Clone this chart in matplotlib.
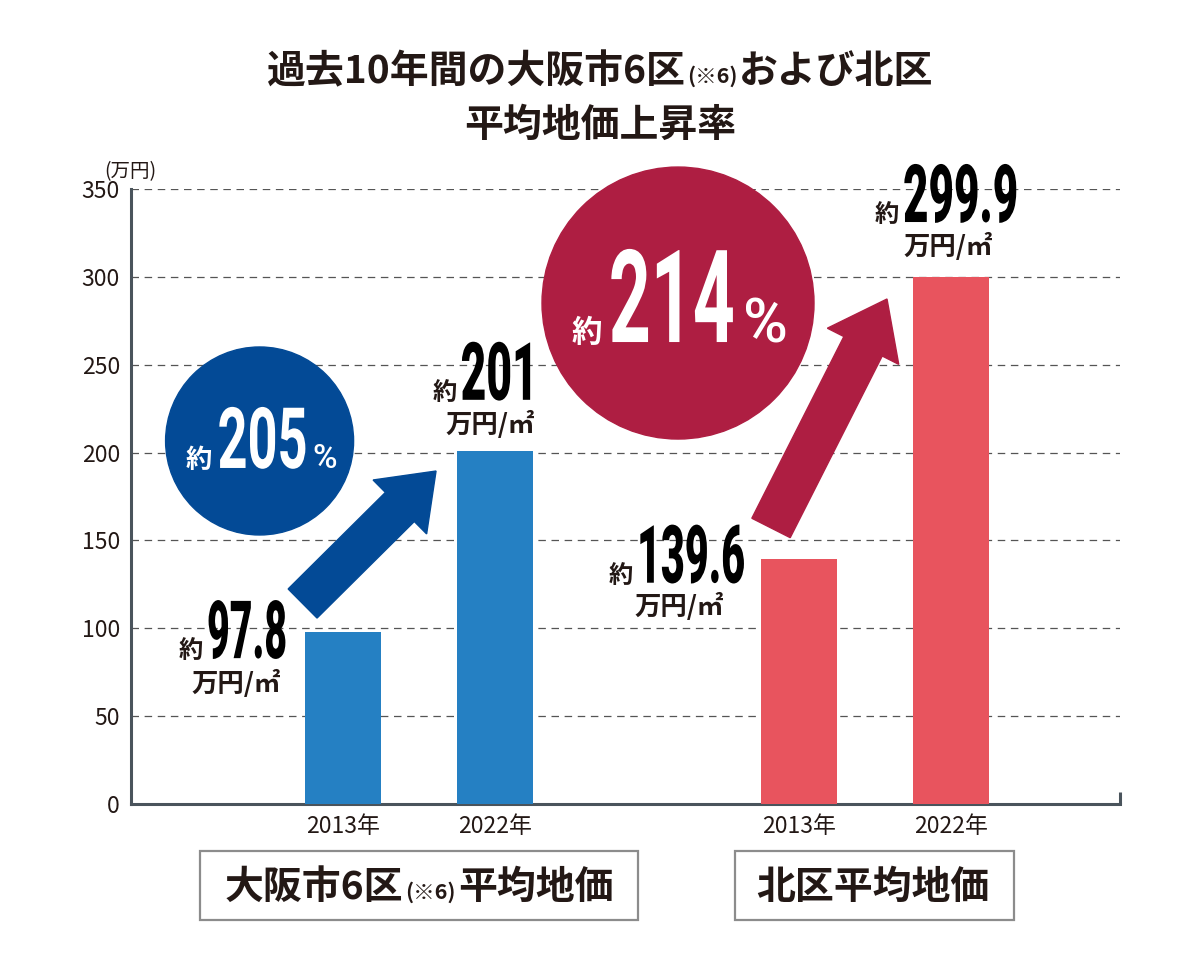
import numpy as np
import matplotlib
matplotlib.use("Agg")
import matplotlib.pyplot as plt
from matplotlib.patches import Circle, Rectangle, Polygon
from matplotlib.patheffects import AbstractPathEffect
from matplotlib.transforms import IdentityTransform, Affine2D

plt.rcParams['font.family'] = ['Noto Sans CJK JP', 'DejaVu Sans']

# data
years = ['2013年', '2022年']
osaka6 = [97.8, 201]
kita = [139.6, 299.9]
growth = ['205', '214']
yticks = [0, 50, 100, 150, 200, 250, 300, 350]

INK = '#231815'
SPINE = '#4a545c'
BAR_COLORS = ['#2580c3', '#2580c3', '#e8545e', '#e8545e']
DEEP = ['#034a96', '#ae1e42']

W, H = 1200, 960
ID = IdentityTransform()
CJK = dict(fontfamily=['Noto Sans CJK JP', 'DejaVu Sans'])
NUM = dict(fontfamily=['Roboto', 'DejaVu Sans'])


class Tall(AbstractPathEffect):
    """stretch glyphs upward from the baseline y0 (fakes a condensed face)"""
    def __init__(self, sy, y0=0.0):
        super().__init__()
        self.sy = sy
        self.y0 = y0

    def draw_path(self, renderer, gc, tpath, affine, rgbFace=None):
        st = Affine2D().translate(0, -self.y0).scale(1, self.sy).translate(0, self.y0)
        renderer.draw_path(gc, tpath, affine + st, rgbFace)


fig = plt.figure(figsize=(12, 9.6), dpi=100)
ax = fig.add_axes([131 / W, 1 - 804 / H, (1120 - 131) / W, (804 - 189) / H])

pos = [0, 1, 3, 4]
values = osaka6 + kita
ax.bar(pos, values, width=0.5, color=BAR_COLORS, zorder=3)

ax.set_xlim(-1.395, 5.112)
ax.set_ylim(0, 350)
ax.set_axisbelow(True)
ax.yaxis.grid(True, linestyle=(0, (6, 4.5)), color='#555555', linewidth=0.9)

ax.set_yticks(yticks)
ax.set_yticklabels([str(v) for v in yticks], fontsize=16.5, color=INK)
ax.set_xticks(pos)
ax.set_xticklabels(years * 2, fontsize=16.5, color=INK)
ax.tick_params(axis='y', length=0, pad=8)
ax.tick_params(axis='x', length=0, pad=8)

for s in ['top', 'right']:
    ax.spines[s].set_visible(False)
for s in ['left', 'bottom']:
    ax.spines[s].set_color(SPINE)
    ax.spines[s].set_linewidth(2.2)
ax.plot([1, 1], [0, 0.019], transform=ax.transAxes, color=SPINE, lw=2.2,
        clip_on=False, solid_capstyle='butt')

fig.text(130 / W, 1 - 172 / H, '(万円)', ha='center', va='center',
         fontsize=14, color=INK, **CJK)

renderer = fig.canvas.get_renderer()


def dpx(x, y):
    X, Y = ax.transData.transform((x, y))
    return X, H - Y


def runs(parts, x, base, anchor='center', gaps=None, z=6):
    # parts: (text, kwargs, target width in px or None)
    texts, widths, stretch = [], [], []
    for s, kw, tw in parts:
        t = fig.text(0, 0, s, transform=ID, ha='left', va='baseline', zorder=z, **kw)
        w = t.get_window_extent(renderer).width
        sy = 1.0
        if tw:
            # shrink the face to the wanted width, then stretch it back up
            k = tw / w
            t.set_fontsize(t.get_fontsize() * k)
            w = t.get_window_extent(renderer).width
            sy = 1 / k
        texts.append(t)
        widths.append(w)
        stretch.append(sy)
    if gaps is None:
        gaps = [2] * (len(texts) - 1)
    total = sum(widths) + sum(gaps)
    x0 = x - total / 2 if anchor == 'center' else x - total
    for i, (t, w, sy) in enumerate(zip(texts, widths, stretch)):
        t.set_position((x0, H - base))
        if sy != 1.0:
            t.set_path_effects([Tall(sy, H - base)])
        x0 += w + (gaps[i] if i < len(gaps) else 0)
    return texts


# title
title_kw = dict(fontsize=28, fontweight='bold', color=INK, **CJK)
small_kw = dict(fontsize=15.5, fontweight='bold', color=INK, **CJK)
runs([('過去10年間の大阪市6区', title_kw, None), ('(※6)', small_kw, None),
      ('および北区', title_kw, None)], 600, 83, gaps=[1, 1])
runs([('平均地価上昇率', title_kw, None)], 600, 137)

# value labels next to bars: anchor, dx number, dy baseline, dx unit, dy unit, number width
label_pos = [('right', -56, 26, -62, 52, 80),
             ('center', -10, -51, -5, -26, 77),
             ('right', -54, 24, -75, 48, 108),
             ('center', -4.5, -55, -3, -30, 115)]
num_kw = dict(fontsize=58, fontweight='black', color='black', **NUM)
yaku_kw = dict(fontsize=17.5, fontweight='bold', color=INK, **CJK)
unit_kw = dict(fontsize=19, fontweight='bold', color=INK, **CJK)
for p, v, (anc, dxn, dyn, dxu, dyu, nw) in zip(pos, values, label_pos):
    bx, by = dpx(p, v)
    runs([('約', yaku_kw, None), (f'{v:g}', num_kw, nw)],
         bx + dxn, by + dyn, anchor=anc, gaps=[4])
    fig.text(bx + dxu, H - (by + dyu), '万円/㎡', transform=ID,
             ha=anc, va='center', zorder=6, **unit_kw)

# growth circles: centre (data), radius px, number size/width, 約 size, % size, baseline dy
circ = [((-0.549, 206.6), 94, 61, 90, 19, 24, 27, [6, 5]),
        ((2.204, 285.1), 136, 93, 126, 22, 44, 39, [7, 8])]
for (c, r, fs_num, nw, fs_yaku, fs_pct, base_dy, gp), g, col in zip(circ, growth, DEEP):
    cx, cy = dpx(*c)
    ax.add_patch(Circle((cx, H - cy), r, transform=ID, color=col, zorder=4, clip_on=False))
    runs([('約', dict(fontsize=fs_yaku, fontweight='bold', color='white', **CJK), None),
          (g, dict(fontsize=fs_num, fontweight='bold', color='white', **NUM), nw),
          ('%', dict(fontsize=fs_pct, fontweight='medium', color='white', **NUM), None)],
         cx + 1.5, cy + base_dy, gaps=gp)


def arrow_poly(p0, p1, shaft, head_w, head_l):
    p0 = np.array(p0, float)
    p1 = np.array(p1, float)
    d = p1 - p0
    u = d / np.hypot(*d)
    n = np.array([-u[1], u[0]])
    b = p1 - u * head_l
    return [p0 + n * shaft / 2, b + n * shaft / 2, b + n * head_w / 2, p1,
            b - n * head_w / 2, b - n * shaft / 2, p0 - n * shaft / 2]


arrows = [((-0.266, 114.1), (0.612, 189.5), 41, 76, 51),
          ((2.816, 157.1), (3.579, 287.4), 43, 80, 53)]
for (a, b, sw, hw, hl), col in zip(arrows, DEEP):
    p0 = ax.transData.transform(a)
    p1 = ax.transData.transform(b)
    ax.add_patch(Polygon(arrow_poly(p0, p1, sw, hw, hl), closed=True, transform=ID,
                         color=col, zorder=4, clip_on=False))

# group name boxes below the axis
box_kw = dict(fontsize=28, fontweight='bold', color=INK, **CJK)
box_small = dict(fontsize=15.5, fontweight='bold', color=INK, **CJK)
boxes = [(0.5, 438, [('大阪市6区', box_kw, None), ('(※6)', box_small, None),
                     ('平均地価', box_kw, None)]),
         (3.5, 279, [('北区平均地価', box_kw, None)])]
for xc, wpx, parts in boxes:
    cx, _ = dpx(xc, 0)
    fig.patches.append(Rectangle((cx - wpx / 2, H - 920), wpx, 69, transform=ID,
                                 fill=False, edgecolor='#8c8c8c', lw=1.6))
    runs(parts, cx, 899, gaps=[2, 2])

fig.savefig('out.png', dpi=100)
